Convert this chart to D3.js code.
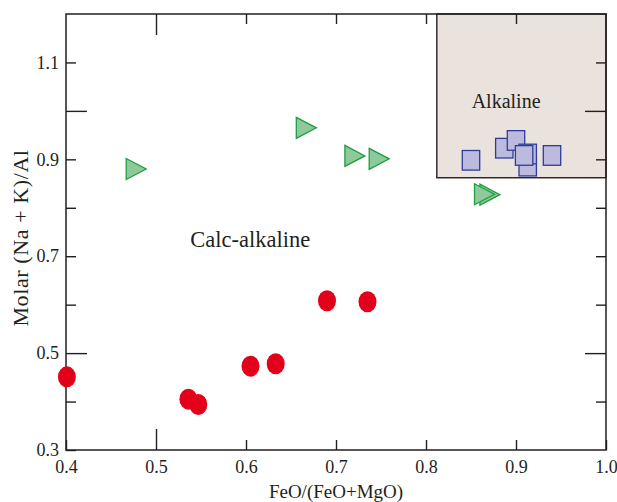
<!DOCTYPE html>
<html>
<head>
<meta charset="utf-8">
<script src="https://cdn.jsdelivr.net/npm/d3@7"></script>
<style>
  body { margin: 0; background: #fff; }
  text { font-family: "Liberation Serif", "DejaVu Serif", serif; fill: #231f20; }
</style>
</head>
<body>
<svg id="chart"></svg>
<script>
// calc-alkaline samples (red circles)
const circleX = [0.401, 0.536, 0.547, 0.605, 0.633, 0.690, 0.735];
const circleY = [0.451, 0.405, 0.394, 0.473, 0.478, 0.608, 0.606];

// green triangles
const triX = [0.478, 0.667, 0.721, 0.748, 0.871, 0.865];
const triY = [0.880, 0.965, 0.907, 0.901, 0.827, 0.828];

// blue squares (drawing order matters, overlap)
const sqX = [0.850, 0.887, 0.900, 0.913, 0.913, 0.909, 0.940];
const sqY = [0.898, 0.923, 0.939, 0.886, 0.911, 0.908, 0.908];

// alkaline field
const alkBox = { x0: 0.812, y0: 0.862 };

const xTicks = [0.4, 0.5, 0.6, 0.7, 0.8, 0.9, 1.0];
const yTicks = [0.3, 0.4, 0.5, 0.6, 0.7, 0.8, 0.9, 1.0, 1.1];
const yLabels = [0.3, 0.5, 0.7, 0.9, 1.1];
const longX = [0.5];
const longY = [0.5, 1.0];

const W = 617, H = 502;
const margin = { top: 14, right: 11, bottom: 52, left: 66 };
const width = W - margin.left - margin.right;
const height = H - margin.top - margin.bottom;

const svg = d3.select("#chart").attr("width", W).attr("height", H);
const g = svg.append("g").attr("transform", `translate(${margin.left},${margin.top})`);

const x = d3.scaleLinear().domain([0.4, 1.0]).range([0, width]);
const y = d3.scaleLinear().domain([0.3, 1.2]).range([height, 0]);

// alkaline box
g.append("rect")
    .attr("x", x(alkBox.x0))
    .attr("y", y(1.2))
    .attr("width", x(1.0) - x(alkBox.x0))
    .attr("height", y(alkBox.y0) - y(1.2))
    .attr("fill", "#e9e2dd")
    .attr("stroke", "#231f20")
    .attr("stroke-width", 1.4);

const fmt = d3.format(".1f");
const tickLen = (v, longs) => longs.some(l => Math.abs(l - v) < 1e-6) ? 21 : 10;

function styleAxis(sel) {
    sel.select(".domain").remove();
    sel.selectAll(".tick line").attr("stroke", "#231f20").attr("stroke-width", 1.4);
    sel.selectAll(".tick text").style("font-size", "18px").style("font-family", "Liberation Serif");
}

// bottom
const xb = g.append("g").attr("transform", `translate(0,${height})`)
    .call(d3.axisBottom(x).tickValues(xTicks).tickFormat(fmt).tickSizeInner(0).tickSizeOuter(0).tickPadding(10));
styleAxis(xb);
xb.selectAll(".tick line").attr("y2", d => -tickLen(d, longX));

// top
const xt = g.append("g")
    .call(d3.axisTop(x).tickValues(xTicks.slice(1, -1)).tickFormat("").tickSizeInner(0).tickSizeOuter(0));
styleAxis(xt);
xt.selectAll(".tick line").attr("y2", d => tickLen(d, longX));

// left
const yl = g.append("g")
    .call(d3.axisLeft(y).tickValues(yTicks).tickFormat(d => yLabels.some(v => Math.abs(v - d) < 1e-6) ? fmt(d) : "")
        .tickSizeInner(0).tickSizeOuter(0).tickPadding(7));
styleAxis(yl);
yl.selectAll(".tick line").attr("x2", d => tickLen(d, longY));

// right
const yr = g.append("g").attr("transform", `translate(${width},0)`)
    .call(d3.axisRight(y).tickValues(yTicks.slice(1)).tickFormat("").tickSizeInner(0).tickSizeOuter(0));
styleAxis(yr);
yr.selectAll(".tick line").attr("x2", d => -tickLen(d, longY));

// frame
g.append("rect")
    .attr("width", width).attr("height", height)
    .attr("fill", "none").attr("stroke", "#231f20").attr("stroke-width", 1.5);

// circles
g.selectAll(".circ")
    .data(circleX.map((v, i) => [v, circleY[i]]))
    .enter().append("ellipse")
    .attr("class", "circ")
    .attr("cx", d => x(d[0]))
    .attr("cy", d => y(d[1]))
    .attr("rx", 9)
    .attr("ry", 10.5)
    .attr("fill", "#e3001b");

// triangles pointing right
const tri = "M-10,-10.5L10,0L-10,10.5Z";
g.selectAll(".tri")
    .data(triX.map((v, i) => [v, triY[i]]))
    .enter().append("path")
    .attr("class", "tri")
    .attr("d", tri)
    .attr("transform", d => `translate(${x(d[0])},${y(d[1])})`)
    .attr("fill", "#8dc99a")
    .attr("stroke", "#1f9e3f")
    .attr("stroke-width", 1.3);

// squares
g.selectAll(".sq")
    .data(sqX.map((v, i) => [v, sqY[i]]))
    .enter().append("rect")
    .attr("class", "sq")
    .attr("x", d => x(d[0]) - 8.7)
    .attr("y", d => y(d[1]) - 9.8)
    .attr("width", 17.4)
    .attr("height", 19.6)
    .attr("fill", "#bdbbdd")
    .attr("stroke", "#2e3c98")
    .attr("stroke-width", 1.3);

// field labels
g.append("text")
    .attr("x", x(0.538)).attr("y", y(0.719))
    .style("font-size", "22.5px")
    .text("Calc-alkaline");

g.append("text")
    .attr("x", x(0.889)).attr("y", y(1.0) - 3)
    .attr("text-anchor", "middle")
    .style("font-size", "20px")
    .text("Alkaline");

// axis titles
svg.append("text")
    .attr("x", margin.left + width / 2)
    .attr("y", H - 4)
    .attr("text-anchor", "middle")
    .style("font-size", "19px")
    .text("FeO/(FeO+MgO)");

svg.append("text")
    .attr("transform", `translate(28,238) rotate(-90)`)
    .attr("text-anchor", "middle")
    .style("font-size", "22px")
    .style("letter-spacing", "0.6px")
    .text("Molar (Na + K)/Al");
</script>
</body>
</html>
